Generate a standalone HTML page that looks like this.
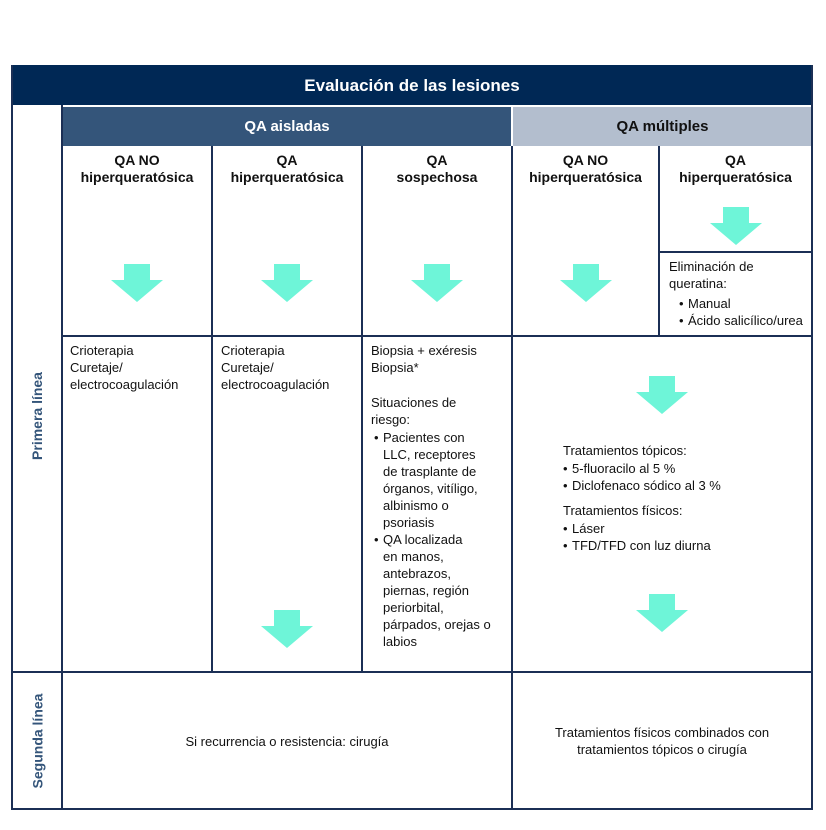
<!DOCTYPE html>
<html><head><meta charset="utf-8"><style>
body{margin:0;width:826px;height:830px;background:#fff;font-family:"Liberation Sans",sans-serif;position:relative;overflow:hidden}
.a{position:absolute}
.h{background:#002855}
.v{background:#1b2f55}
.t{position:absolute;font-size:13px;color:#111;line-height:17px}
.b{font-weight:bold;font-size:14px;text-align:center}
.ar{position:absolute;width:52px;height:38px}
ul{margin:0;padding:0 0 0 10px;list-style:none}
li{position:relative;padding-left:9px;white-space:nowrap}
li:before{content:"•";position:absolute;left:0}
</style></head><body>
<div class="a h" style="left:11px;top:65px;width:802px;height:40px"></div>
<div class="a" style="left:11px;top:65px;width:802px;height:40px;color:#fff;font-weight:bold;font-size:17px;text-align:center;line-height:42px">Evaluación de las lesiones</div>
<div class="a" style="left:63px;top:107px;width:448px;height:39px;background:#34557a;color:#fff;font-weight:bold;font-size:15px;text-align:center;line-height:40px">QA aisladas</div>
<div class="a" style="left:513px;top:107px;width:299px;height:39px;background:#b3bece;color:#111;font-weight:bold;font-size:15px;text-align:center;line-height:40px">QA múltiples</div>
<div class="a v" style="left:11px;top:65px;width:2px;height:745px"></div>
<div class="a v" style="left:811px;top:65px;width:2px;height:745px"></div>
<div class="a v" style="left:11px;top:808px;width:802px;height:2px"></div>
<div class="a v" style="left:61px;top:105px;width:2px;height:705px"></div>
<div class="a v" style="left:211px;top:146px;width:2px;height:526px"></div>
<div class="a v" style="left:361px;top:146px;width:2px;height:526px"></div>
<div class="a v" style="left:511px;top:146px;width:2px;height:664px"></div>
<div class="a v" style="left:658px;top:146px;width:2px;height:190px"></div>
<div class="a v" style="left:658px;top:251px;width:155px;height:2px"></div>
<div class="a v" style="left:61px;top:335px;width:752px;height:2px"></div>
<div class="a v" style="left:11px;top:671px;width:802px;height:2px"></div>
<div class="a" style="left:13px;top:336px;width:48px;height:160px;display:flex;align-items:center;justify-content:center"><div style="transform:rotate(-90deg);white-space:nowrap;color:#34557a;font-weight:bold;font-size:14px">Primera línea</div></div>
<div class="a" style="left:13px;top:673px;width:48px;height:135px;display:flex;align-items:center;justify-content:center"><div style="transform:rotate(-90deg);white-space:nowrap;color:#34557a;font-weight:bold;font-size:14px">Segunda línea</div></div>
<div class="t b" style="left:63px;top:152px;width:148px">QA NO<br>hiperqueratósica</div>
<div class="t b" style="left:213px;top:152px;width:148px">QA<br>hiperqueratósica</div>
<div class="t b" style="left:363px;top:152px;width:148px">QA<br>sospechosa</div>
<div class="t b" style="left:513px;top:152px;width:145px">QA NO<br>hiperqueratósica</div>
<div class="t b" style="left:660px;top:152px;width:151px">QA<br>hiperqueratósica</div>
<svg class="ar" style="left:111px;top:264px" viewBox="0 0 52 38"><path d="M13 0H39V16H52L26 38L0 16H13Z" fill="#6ef5d8"/></svg>
<svg class="ar" style="left:261px;top:264px" viewBox="0 0 52 38"><path d="M13 0H39V16H52L26 38L0 16H13Z" fill="#6ef5d8"/></svg>
<svg class="ar" style="left:411px;top:264px" viewBox="0 0 52 38"><path d="M13 0H39V16H52L26 38L0 16H13Z" fill="#6ef5d8"/></svg>
<svg class="ar" style="left:560px;top:264px" viewBox="0 0 52 38"><path d="M13 0H39V16H52L26 38L0 16H13Z" fill="#6ef5d8"/></svg>
<svg class="ar" style="left:710px;top:207px" viewBox="0 0 52 38"><path d="M13 0H39V16H52L26 38L0 16H13Z" fill="#6ef5d8"/></svg>
<svg class="ar" style="left:636px;top:376px" viewBox="0 0 52 38"><path d="M13 0H39V16H52L26 38L0 16H13Z" fill="#6ef5d8"/></svg>
<svg class="ar" style="left:636px;top:594px" viewBox="0 0 52 38"><path d="M13 0H39V16H52L26 38L0 16H13Z" fill="#6ef5d8"/></svg>
<svg class="ar" style="left:261px;top:610px" viewBox="0 0 52 38"><path d="M13 0H39V16H52L26 38L0 16H13Z" fill="#6ef5d8"/></svg>
<div class="t" style="left:669px;top:258px;width:142px">Eliminación de<br>queratina:<ul style="margin-top:3px"><li>Manual</li><li>Ácido salicílico/urea</li></ul></div>
<div class="t" style="left:70px;top:342px">Crioterapia<br>Curetaje/<br>electrocoagulación</div>
<div class="t" style="left:221px;top:342px">Crioterapia<br>Curetaje/<br>electrocoagulación</div>
<div class="t" style="left:371px;top:342px;width:140px">Biopsia + exéresis<br>Biopsia*<div style="height:18px"></div>Situaciones de<br>riesgo:<ul style="margin-top:1px;padding-left:3px"><li>Pacientes con<br>LLC, receptores<br>de trasplante de<br>órganos, vitíligo,<br>albinismo o<br>psoriasis</li><li>QA localizada<br>en manos,<br>antebrazos,<br>piernas, región<br>periorbital,<br>párpados, orejas o<br>labios</li></ul></div>
<div class="t" style="left:563px;top:442px;width:240px">Tratamientos tópicos:<ul style="margin-top:1px;padding-left:0"><li>5-fluoracilo al 5 %</li><li>Diclofenaco sódico al 3 %</li></ul><div style="height:8px"></div>Tratamientos físicos:<ul style="margin-top:1px;padding-left:0"><li>Láser</li><li>TFD/TFD con luz diurna</li></ul></div>
<div class="t" style="left:63px;top:733px;width:448px;text-align:center">Si recurrencia o resistencia: cirugía</div>
<div class="t" style="left:513px;top:724px;width:298px;text-align:center">Tratamientos físicos combinados con<br>tratamientos tópicos o cirugía</div>
</body></html>
